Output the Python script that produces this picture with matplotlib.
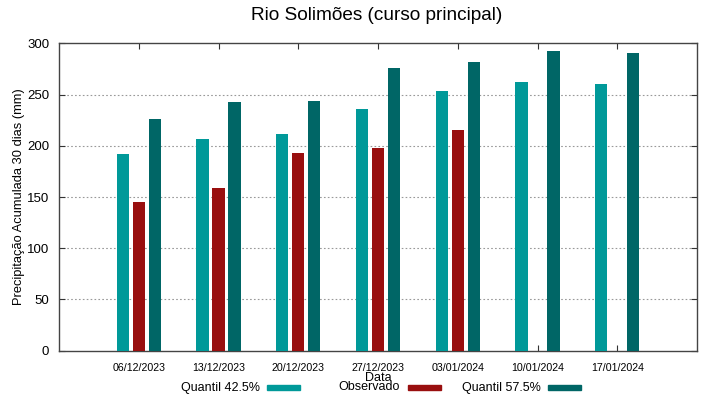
import matplotlib
matplotlib.use("Agg")
import matplotlib.pyplot as plt
from matplotlib.patches import Rectangle
import numpy as np

plt.rcParams['font.family'] = ['Liberation Sans', 'DejaVu Sans']

dates = ["06/12/2023", "13/12/2023", "20/12/2023", "27/12/2023",
         "03/01/2024", "10/01/2024", "17/01/2024"]
q425 = [192, 207, 211, 236, 253, 262, 260]
obs = [145, 159, 193, 198, 215, np.nan, np.nan]
q575 = [226, 243, 244, 276, 282, 292, 291]

c_q425 = "#009999"
c_obs = "#990f0f"
c_q575 = "#006666"

fig = plt.figure(figsize=(7.19, 3.99), dpi=100)
ax = fig.add_axes([59/719, 48.3/399, 638/719, 307.4/399])

x = np.arange(len(dates))
w = 0.155
off = 0.2
ax.bar(x - off, q425, width=w, color=c_q425, zorder=3)
ax.bar(x, obs, width=w, color=c_obs, zorder=3)
ax.bar(x + off, q575, width=w, color=c_q575, zorder=3)

ax.set_xlim(-1, 7)
ax.set_ylim(0, 300)
ax.set_xticks(x)
ax.set_xticklabels(dates, fontsize=7.7)
ax.set_yticks(np.arange(0, 301, 50))
ax.tick_params(axis='y', labelsize=9.5, direction='in', length=4, right=True, pad=7, color='#333333')
ax.tick_params(axis='x', direction='in', length=4, top=True, pad=9, color='#333333')
for sp in ax.spines.values():
    sp.set_color('#444444')
    sp.set_linewidth(1.0)

for yv in range(50, 300, 50):
    ax.axhline(yv, color='#999999', linestyle=(0, (1.5, 2)), linewidth=0.8, zorder=1)

ax.set_ylabel("Precipitação Acumulada 30 dias (mm)", fontsize=9.3)
ax.yaxis.set_label_coords(-0.054, 0.5)

fig.text(377/719, 1 - 16/399, "Rio Solimões (curso principal)", fontsize=13.7,
         ha='center', va='center')
fig.text(378/719, 1 - 378/399, "Data", fontsize=9, ha='center', va='center')

# legend (gnuplot style: text then sample)
leg_y = 1 - 387.5/399
entries = [("Quantil 42.5%", c_q425, 260, 267),
           ("Observado", c_obs, 400, 408),
           ("Quantil 57.5%", c_q575, 541, 548)]
for label, col, tx, sx in entries:
    fig.text(tx/719, leg_y, label, fontsize=9, ha='right', va='center')
    fig.patches.append(Rectangle((sx/719, leg_y - 2.5/399), 33/719, 5/399,
                                 transform=fig.transFigure, color=col,
                                 figure=fig))

fig.savefig("out.png", dpi=100)
